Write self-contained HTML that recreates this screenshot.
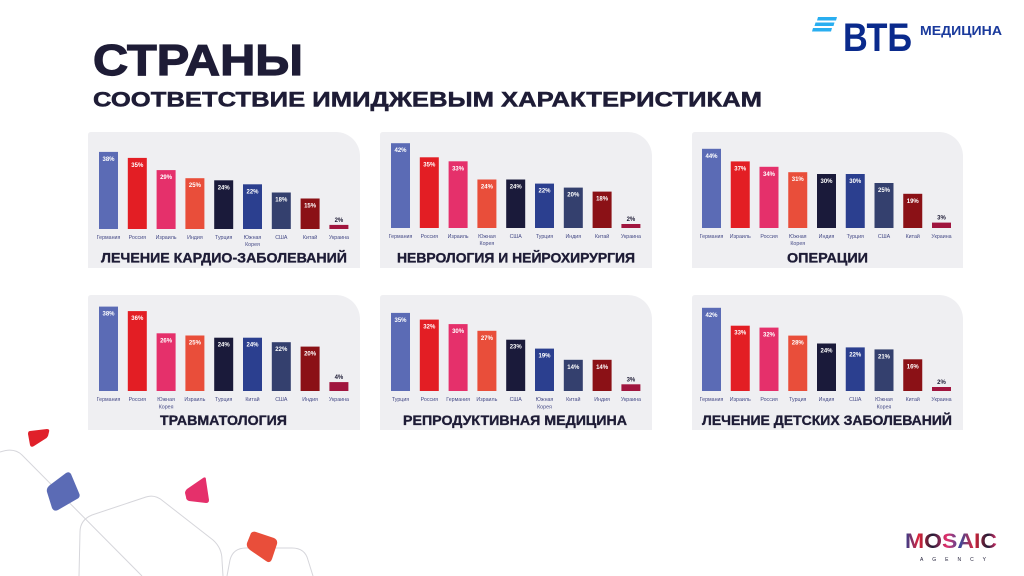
<!DOCTYPE html>
<html>
<head>
<meta charset="utf-8">
<style>
  html,body{margin:0;padding:0;background:#ffffff;}
  svg{display:block;}
  text{font-family:"Liberation Sans","DejaVu Sans",sans-serif;}
  .v{font-size:6px;font-weight:bold;fill:#ffffff;text-anchor:middle;}
  .vd{font-size:6px;font-weight:bold;fill:#1e1c36;text-anchor:middle;}
  .c{font-size:5.3px;fill:#454a86;text-anchor:middle;}
  .t{font-size:13.5px;font-weight:bold;fill:#1e1c36;stroke:#1e1c36;stroke-width:0.35;}
</style>
</head>
<body>
<svg width="1024" height="576" viewBox="0 0 1024 576" xmlns="http://www.w3.org/2000/svg">
  <defs>
    <linearGradient id="mos" x1="905" y1="0" x2="997" y2="0" gradientUnits="userSpaceOnUse">
      <stop offset="0" stop-color="#2b3f8f"/>
      <stop offset="0.15" stop-color="#e0243a"/>
      <stop offset="0.3" stop-color="#1e1c36"/>
      <stop offset="0.45" stop-color="#e5306b"/>
      <stop offset="0.6" stop-color="#3a4a9a"/>
      <stop offset="0.75" stop-color="#e0243a"/>
      <stop offset="0.9" stop-color="#1e1c36"/>
      <stop offset="1" stop-color="#e5306b"/>
    </linearGradient>
  </defs>

  <!-- Header -->
  <text x="93" y="75" font-size="44" font-weight="bold" fill="#1e1c36" stroke="#1e1c36" stroke-width="1.2" textLength="210" lengthAdjust="spacingAndGlyphs">СТРАНЫ</text>
  <text x="93" y="106.5" font-size="21" font-weight="bold" fill="#1e1c36" stroke="#1e1c36" stroke-width="0.5" textLength="669" lengthAdjust="spacingAndGlyphs">СООТВЕТСТВИЕ ИМИДЖЕВЫМ ХАРАКТЕРИСТИКАМ</text>

  <!-- VTB logo -->
  <polygon points="818,17 837,17 836,20.5 817,20.5" fill="#29aef0"/>
  <polygon points="815.5,22.5 834.5,22.5 833.5,26 814.5,26" fill="#29aef0"/>
  <polygon points="813,28 832,28 831,31.5 812,31.5" fill="#29aef0"/>
  <text x="843" y="51" font-size="40" font-weight="bold" fill="#0a2a8c" textLength="69" lengthAdjust="spacingAndGlyphs">ВТБ</text>
  <text x="920" y="35" font-size="12.5" font-weight="bold" fill="#1a3a9c" textLength="82" lengthAdjust="spacingAndGlyphs">МЕДИЦИНА</text>

  <!-- Panels -->
  <path d="M88,268 V135 Q88,132 91,132 H336 A24,24 0 0 1 360,156 V268 Z" fill="#efeff2"/>
  <path d="M380,268 V135 Q380,132 383,132 H628 A24,24 0 0 1 652,156 V268 Z" fill="#efeff2"/>
  <path d="M692,268 V135 Q692,132 695,132 H939 A24,24 0 0 1 963,156 V268 Z" fill="#efeff2"/>
  <path d="M88,430 V298 Q88,295 91,295 H336 A24,24 0 0 1 360,319 V430 Z" fill="#efeff2"/>
  <path d="M380,430 V298 Q380,295 383,295 H628 A24,24 0 0 1 652,319 V430 Z" fill="#efeff2"/>
  <path d="M692,430 V298 Q692,295 695,295 H939 A24,24 0 0 1 963,319 V430 Z" fill="#efeff2"/>

  <!-- Panel 1 -->
  <rect x="99" y="151.9" width="19" height="77.1" fill="#5b6bb5"/>
  <rect x="127.8" y="157.9" width="19" height="71.1" fill="#e31e24"/>
  <rect x="156.6" y="170.1" width="19" height="58.9" fill="#e5306b"/>
  <rect x="185.4" y="178.2" width="19" height="50.8" fill="#e94e3a"/>
  <rect x="214.2" y="180.3" width="19" height="48.7" fill="#1a1a3a"/>
  <rect x="243" y="184.3" width="19" height="44.7" fill="#2b3f8f"/>
  <rect x="271.8" y="192.5" width="19" height="36.5" fill="#34406e"/>
  <rect x="300.6" y="198.5" width="19" height="30.5" fill="#8b1116"/>
  <rect x="329.4" y="224.9" width="19" height="4.1" fill="#a0153e"/>
  <text class="v" x="108.5" y="160.9">38%</text>
  <text class="v" x="137.3" y="166.9">35%</text>
  <text class="v" x="166.1" y="179.1">29%</text>
  <text class="v" x="194.9" y="187.2">25%</text>
  <text class="v" x="223.7" y="189.3">24%</text>
  <text class="v" x="252.5" y="193.3">22%</text>
  <text class="v" x="281.3" y="201.5">18%</text>
  <text class="v" x="310.1" y="207.5">15%</text>
  <text class="vd" x="338.9" y="221.9">2%</text>
  <text class="c" x="108.5" y="239">Германия</text>
  <text class="c" x="137.3" y="239">Россия</text>
  <text class="c" x="166.1" y="239">Израиль</text>
  <text class="c" x="194.9" y="239">Индия</text>
  <text class="c" x="223.7" y="239">Турция</text>
  <text class="c" x="252.5" y="239">Южная</text>
  <text class="c" x="252.5" y="246">Корея</text>
  <text class="c" x="281.3" y="239">США</text>
  <text class="c" x="310.1" y="239">Китай</text>
  <text class="c" x="338.9" y="239">Украина</text>
  <text class="t" x="101" y="262.3" textLength="246" lengthAdjust="spacingAndGlyphs">ЛЕЧЕНИЕ КАРДИО-ЗАБОЛЕВАНИЙ</text>

  <!-- Panel 2 -->
  <rect x="391" y="143.2" width="19" height="84.8" fill="#5b6bb5"/>
  <rect x="419.8" y="157.3" width="19" height="70.7" fill="#e31e24"/>
  <rect x="448.6" y="161.3" width="19" height="66.7" fill="#e5306b"/>
  <rect x="477.4" y="179.5" width="19" height="48.5" fill="#e94e3a"/>
  <rect x="506.2" y="179.5" width="19" height="48.5" fill="#1a1a3a"/>
  <rect x="535" y="183.6" width="19" height="44.4" fill="#2b3f8f"/>
  <rect x="563.8" y="187.6" width="19" height="40.4" fill="#34406e"/>
  <rect x="592.6" y="191.6" width="19" height="36.4" fill="#8b1116"/>
  <rect x="621.4" y="224" width="19" height="4" fill="#a0153e"/>
  <text class="v" x="400.5" y="152.2">42%</text>
  <text class="v" x="429.3" y="166.3">35%</text>
  <text class="v" x="458.1" y="170.3">33%</text>
  <text class="v" x="486.9" y="188.5">24%</text>
  <text class="v" x="515.7" y="188.5">24%</text>
  <text class="v" x="544.5" y="192.6">22%</text>
  <text class="v" x="573.3" y="196.6">20%</text>
  <text class="v" x="602.1" y="200.6">18%</text>
  <text class="vd" x="630.9" y="221">2%</text>
  <text class="c" x="400.5" y="238">Германия</text>
  <text class="c" x="429.3" y="238">Россия</text>
  <text class="c" x="458.1" y="238">Израиль</text>
  <text class="c" x="486.9" y="238">Южная</text>
  <text class="c" x="486.9" y="245">Корея</text>
  <text class="c" x="515.7" y="238">США</text>
  <text class="c" x="544.5" y="238">Турция</text>
  <text class="c" x="573.3" y="238">Индия</text>
  <text class="c" x="602.1" y="238">Китай</text>
  <text class="c" x="630.9" y="238">Украина</text>
  <text class="t" x="397" y="262.3" textLength="238" lengthAdjust="spacingAndGlyphs">НЕВРОЛОГИЯ И НЕЙРОХИРУРГИЯ</text>

  <!-- Panel 3 -->
  <rect x="702" y="148.8" width="19" height="79.2" fill="#5b6bb5"/>
  <rect x="730.75" y="161.4" width="19" height="66.6" fill="#e31e24"/>
  <rect x="759.5" y="166.8" width="19" height="61.2" fill="#e5306b"/>
  <rect x="788.25" y="172.2" width="19" height="55.8" fill="#e94e3a"/>
  <rect x="817" y="174" width="19" height="54" fill="#1a1a3a"/>
  <rect x="845.75" y="174" width="19" height="54" fill="#2b3f8f"/>
  <rect x="874.5" y="183" width="19" height="45" fill="#34406e"/>
  <rect x="903.25" y="193.8" width="19" height="34.2" fill="#8b1116"/>
  <rect x="932" y="222.6" width="19" height="5.4" fill="#a0153e"/>
  <text class="v" x="711.5" y="157.8">44%</text>
  <text class="v" x="740.25" y="170.4">37%</text>
  <text class="v" x="769" y="175.8">34%</text>
  <text class="v" x="797.75" y="181.2">31%</text>
  <text class="v" x="826.5" y="183">30%</text>
  <text class="v" x="855.25" y="183">30%</text>
  <text class="v" x="884" y="192">25%</text>
  <text class="v" x="912.75" y="202.8">19%</text>
  <text class="vd" x="941.5" y="219.6">3%</text>
  <text class="c" x="711.5" y="238">Германия</text>
  <text class="c" x="740.25" y="238">Израиль</text>
  <text class="c" x="769" y="238">Россия</text>
  <text class="c" x="797.75" y="238">Южная</text>
  <text class="c" x="797.75" y="245">Корея</text>
  <text class="c" x="826.5" y="238">Индия</text>
  <text class="c" x="855.25" y="238">Турция</text>
  <text class="c" x="884" y="238">США</text>
  <text class="c" x="912.75" y="238">Китай</text>
  <text class="c" x="941.5" y="238">Украина</text>
  <text class="t" x="787" y="262.3" textLength="81" lengthAdjust="spacingAndGlyphs">ОПЕРАЦИИ</text>

  <!-- Panel 4 -->
  <rect x="99" y="306.6" width="19" height="84.4" fill="#5b6bb5"/>
  <rect x="127.8" y="311.1" width="19" height="79.9" fill="#e31e24"/>
  <rect x="156.6" y="333.3" width="19" height="57.7" fill="#e5306b"/>
  <rect x="185.4" y="335.5" width="19" height="55.5" fill="#e94e3a"/>
  <rect x="214.2" y="337.7" width="19" height="53.3" fill="#1a1a3a"/>
  <rect x="243" y="337.7" width="19" height="53.3" fill="#2b3f8f"/>
  <rect x="271.8" y="342.2" width="19" height="48.8" fill="#34406e"/>
  <rect x="300.6" y="346.6" width="19" height="44.4" fill="#8b1116"/>
  <rect x="329.4" y="382.1" width="19" height="8.9" fill="#a0153e"/>
  <text class="v" x="108.5" y="315.6">38%</text>
  <text class="v" x="137.3" y="320.1">36%</text>
  <text class="v" x="166.1" y="342.3">26%</text>
  <text class="v" x="194.9" y="344.5">25%</text>
  <text class="v" x="223.7" y="346.7">24%</text>
  <text class="v" x="252.5" y="346.7">24%</text>
  <text class="v" x="281.3" y="351.2">22%</text>
  <text class="v" x="310.1" y="355.6">20%</text>
  <text class="vd" x="338.9" y="379.1">4%</text>
  <text class="c" x="108.5" y="401">Германия</text>
  <text class="c" x="137.3" y="401">Россия</text>
  <text class="c" x="166.1" y="401">Южная</text>
  <text class="c" x="166.1" y="408.5">Корея</text>
  <text class="c" x="194.9" y="401">Израиль</text>
  <text class="c" x="223.7" y="401">Турция</text>
  <text class="c" x="252.5" y="401">Китай</text>
  <text class="c" x="281.3" y="401">США</text>
  <text class="c" x="310.1" y="401">Индия</text>
  <text class="c" x="338.9" y="401">Украина</text>
  <text class="t" x="160" y="425" textLength="127" lengthAdjust="spacingAndGlyphs">ТРАВМАТОЛОГИЯ</text>

  <!-- Panel 5 -->
  <rect x="391" y="312.9" width="19" height="78.1" fill="#5b6bb5"/>
  <rect x="419.8" y="319.6" width="19" height="71.4" fill="#e31e24"/>
  <rect x="448.6" y="324.1" width="19" height="66.9" fill="#e5306b"/>
  <rect x="477.4" y="330.8" width="19" height="60.2" fill="#e94e3a"/>
  <rect x="506.2" y="339.7" width="19" height="51.3" fill="#1a1a3a"/>
  <rect x="535" y="348.6" width="19" height="42.4" fill="#2b3f8f"/>
  <rect x="563.8" y="359.8" width="19" height="31.2" fill="#34406e"/>
  <rect x="592.6" y="359.8" width="19" height="31.2" fill="#8b1116"/>
  <rect x="621.4" y="384.3" width="19" height="6.7" fill="#a0153e"/>
  <text class="v" x="400.5" y="321.9">35%</text>
  <text class="v" x="429.3" y="328.6">32%</text>
  <text class="v" x="458.1" y="333.1">30%</text>
  <text class="v" x="486.9" y="339.8">27%</text>
  <text class="v" x="515.7" y="348.7">23%</text>
  <text class="v" x="544.5" y="357.6">19%</text>
  <text class="v" x="573.3" y="368.8">14%</text>
  <text class="v" x="602.1" y="368.8">14%</text>
  <text class="vd" x="630.9" y="381.3">3%</text>
  <text class="c" x="400.5" y="401">Турция</text>
  <text class="c" x="429.3" y="401">Россия</text>
  <text class="c" x="458.1" y="401">Германия</text>
  <text class="c" x="486.9" y="401">Израиль</text>
  <text class="c" x="515.7" y="401">США</text>
  <text class="c" x="544.5" y="401">Южная</text>
  <text class="c" x="544.5" y="408.5">Корея</text>
  <text class="c" x="573.3" y="401">Китай</text>
  <text class="c" x="602.1" y="401">Индия</text>
  <text class="c" x="630.9" y="401">Украина</text>
  <text class="t" x="403" y="425" textLength="224" lengthAdjust="spacingAndGlyphs">РЕПРОДУКТИВНАЯ МЕДИЦИНА</text>

  <!-- Panel 6 -->
  <rect x="702" y="307.8" width="19" height="83.2" fill="#5b6bb5"/>
  <rect x="730.75" y="325.7" width="19" height="65.3" fill="#e31e24"/>
  <rect x="759.5" y="327.6" width="19" height="63.4" fill="#e5306b"/>
  <rect x="788.25" y="335.6" width="19" height="55.4" fill="#e94e3a"/>
  <rect x="817" y="343.5" width="19" height="47.5" fill="#1a1a3a"/>
  <rect x="845.75" y="347.4" width="19" height="43.6" fill="#2b3f8f"/>
  <rect x="874.5" y="349.4" width="19" height="41.6" fill="#34406e"/>
  <rect x="903.25" y="359.3" width="19" height="31.7" fill="#8b1116"/>
  <rect x="932" y="387" width="19" height="4" fill="#a0153e"/>
  <text class="v" x="711.5" y="316.8">42%</text>
  <text class="v" x="740.25" y="334.7">33%</text>
  <text class="v" x="769" y="336.6">32%</text>
  <text class="v" x="797.75" y="344.6">28%</text>
  <text class="v" x="826.5" y="352.5">24%</text>
  <text class="v" x="855.25" y="356.4">22%</text>
  <text class="v" x="884" y="358.4">21%</text>
  <text class="v" x="912.75" y="368.3">16%</text>
  <text class="vd" x="941.5" y="384">2%</text>
  <text class="c" x="711.5" y="401">Германия</text>
  <text class="c" x="740.25" y="401">Израиль</text>
  <text class="c" x="769" y="401">Россия</text>
  <text class="c" x="797.75" y="401">Турция</text>
  <text class="c" x="826.5" y="401">Индия</text>
  <text class="c" x="855.25" y="401">США</text>
  <text class="c" x="884" y="401">Южная</text>
  <text class="c" x="884" y="408.5">Корея</text>
  <text class="c" x="912.75" y="401">Китай</text>
  <text class="c" x="941.5" y="401">Украина</text>
  <text class="t" x="702" y="425" textLength="250" lengthAdjust="spacingAndGlyphs">ЛЕЧЕНИЕ ДЕТСКИХ ЗАБОЛЕВАНИЙ</text>

  <!-- Decorations bottom-left -->
  <g fill="none" stroke="#d6d6db" stroke-width="1">
    <path d="M0,452 Q14,447 22,455 L142,576"/>
    <path d="M79,576 L80,532 Q80,520 92,515 L146,497 Q155,494 163,501 L213,540 Q222,548 222,560 L223,576"/>
    <path d="M227,576 L230,560 Q233,548 246,548 L292,548 Q305,548 308,560 L313,576"/>
  </g>
  <path d="M30,431 L47,429 Q50,429 49,432 L48,436 Q47,438 45,439 L34,446 Q31,448 30,445 L28,434 Q28,431 30,431 Z" fill="#e0202a"/>
  <path d="M50,485 L66,473 Q69,471 71,474 L79,493 Q81,497 77,499 L58,510 Q54,512 52,508 L47,492 Q46,488 50,485 Z" fill="#5b6bb5"/>
  <path d="M187,489 L203,478 Q206,476 206,480 L209,500 Q209,503 206,503 L189,501 Q186,500 186,497 L185,493 Q185,491 187,489 Z" fill="#e5306b"/>
  <path d="M251,533 Q253,531 256,532 L274,538 Q278,540 277,544 L272,559 Q270,564 266,561 L250,550 Q246,547 247,543 Z" fill="#e94e3a"/>

  <!-- Mosaic logo -->
  <text x="905" y="548" font-size="21" font-weight="bold" fill="url(#mos)" textLength="92" lengthAdjust="spacingAndGlyphs">MOSAIC</text>
  <text x="920" y="561" font-size="5" fill="#1e1c36" textLength="66" lengthAdjust="spacing">AGENCY</text>
</svg>
</body>
</html>
